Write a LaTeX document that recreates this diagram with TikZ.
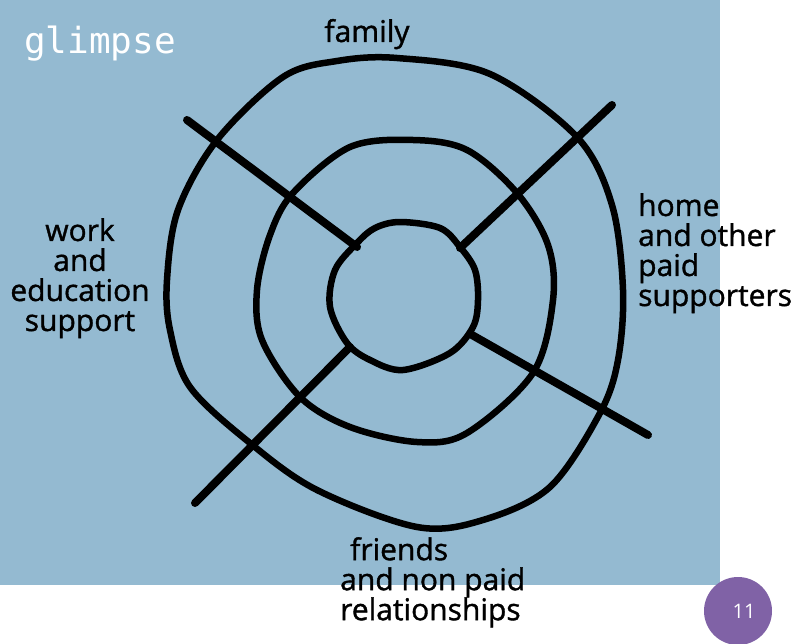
\documentclass[tikz,border=0pt]{standalone}
\usepackage{fontspec}
\setmainfont{Open Sans}
\newfontfamily\handfam{Open Sans}[FakeBold=1.2]
\newfontfamily\monofam{DejaVu Sans Mono}
\definecolor{bgblue}{RGB}{148,186,209}
\definecolor{badge}{RGB}{128,98,166}
\begin{document}
\begin{tikzpicture}[x=1pt,y=-1pt,
  ring/.style={line width=6.5pt,line join=round},
  spoke/.style={line width=8pt,line cap=round},
  hand/.style={font=\handfam\fontsize{30}{30}\selectfont,text=black,inner sep=0pt}]
\useasboundingbox (0,0) rectangle (797,644);
\fill[white] (0,0) rectangle (797,644);
\fill[bgblue] (0,0) rectangle (720,585);
% rings
\draw[ring] plot[smooth cycle,tension=0.55] coordinates {(397,58) (490,74) (577,137) (612,205) (623,290) (618,360) (600,413) (550,487) (483,520) (417,527) (317,490) (250,443) (190,387) (170,330) (167,280) (178,210) (217,140) (283,77) (337,61)};
\draw[ring] plot[smooth cycle,tension=0.55] coordinates {(413,140) (467,150) (517,193) (548,245) (553,300) (533,373) (467,433) (417,442) (350,427) (300,397) (262,340) (257,290) (270,235) (293,193) (350,147)};
\draw[ring] plot[smooth cycle,tension=0.55] coordinates {(400,222) (440,228) (460,247) (475,270) (478,300) (473,327) (450,353) (403,370) (370,360) (347,343) (330,307) (335,270) (357,243) (375,228)};
% spokes
\coordinate (tla) at (187,120); \coordinate (tlb) at (357,247);
\coordinate (tra) at (612,105); \coordinate (trb) at (460,248);
\coordinate (bla) at (195,503); \coordinate (blb) at (350,347);
\coordinate (bra) at (472,335); \coordinate (brb) at (648,435);
\draw[spoke] (tla) -- (tlb);
\draw[spoke] (tra) -- (trb);
\draw[spoke] (bla) -- (blb);
\draw[spoke] (bra) -- (brb);
% labels
\node[anchor=base west,text=white,font=\monofam\fontsize{36}{36}\selectfont,inner sep=0pt] (title) at (24,54) {glimpse};
\node[hand,anchor=base] (family) at (367,42) {family};
\node[hand,anchor=north,align=center] (work) at (80,218) {work\\and\\education\\support};
\node[hand,anchor=north west,align=left] (home) at (638,193) {home\\and other\\paid\\supporters};
\node[hand,anchor=north west,align=left] (friends) at (340,537) {\hspace*{10pt}friends\\and non paid\\relationships};
% page badge
\fill[badge] (738,611) circle[radius=34];
\node[text=white,font=\fontsize{20}{20}\selectfont,inner sep=0pt] (page) at (744,611) {11};
\end{tikzpicture}
\end{document}
